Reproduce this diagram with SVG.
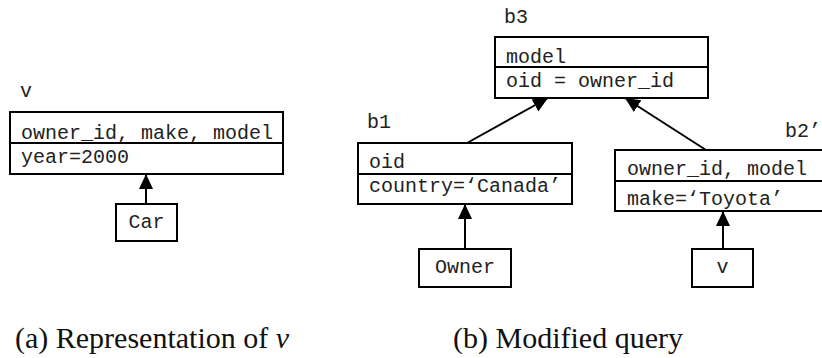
<svg xmlns="http://www.w3.org/2000/svg" width="822" height="358" viewBox="0 0 822 358">
<defs>
<marker id="ah" markerUnits="userSpaceOnUse" markerWidth="16" markerHeight="16" refX="15" refY="7" orient="auto">
<path d="M0,0 L15,7 L0,14 z" fill="#000"/>
</marker>
<style>
.box{fill:#fff;stroke:#000;stroke-width:2}
.div{stroke:#000;stroke-width:2}
.m{font-family:"Liberation Mono","Courier New",monospace;font-size:20px;fill:#222}
.cap{font-family:"Liberation Serif","Times New Roman",serif;font-size:30px;fill:#111}
.edge{stroke:#000;stroke-width:2;fill:none;marker-end:url(#ah)}
</style>
</defs>
<rect width="822" height="358" fill="#fff"/>

<g id="connectors">
<line class="edge" x1="146" y1="204" x2="146" y2="174"/>
<line class="edge" x1="465" y1="249" x2="465" y2="204"/>
<line class="edge" x1="723" y1="249" x2="723" y2="211"/>
<line class="edge" x1="467" y1="143" x2="548" y2="98"/>
<line class="edge" x1="706" y1="150" x2="625" y2="98"/>
</g>

<g id="v-node">
<text class="m" x="20" y="97">v</text>
<rect class="box" x="10" y="112" width="273" height="62"/>
<line class="div" x1="10" y1="143" x2="283" y2="143"/>
<text class="m" x="21" y="139">owner_id, make, model</text>
<text class="m" x="21" y="163">year=2000</text>
</g>

<g id="car">
<rect class="box" x="116" y="204" width="61" height="37"/>
<text class="m" x="146.5" y="228" text-anchor="middle">Car</text>
</g>

<g id="b3">
<text class="m" x="504" y="23">b3</text>
<rect class="box" x="495" y="37" width="213" height="61"/>
<line class="div" x1="495" y1="67" x2="708" y2="67"/>
<text class="m" x="506" y="63">model</text>
<text class="m" x="506" y="87">oid = owner_id</text>
</g>

<g id="b1">
<text class="m" x="367" y="128">b1</text>
<rect class="box" x="358" y="143" width="214" height="61"/>
<line class="div" x1="358" y1="174" x2="572" y2="174"/>
<text class="m" x="369" y="168">oid</text>
<text class="m" x="369" y="192">country=‘Canada’</text>
</g>

<g id="owner">
<rect class="box" x="419" y="249" width="92" height="38"/>
<text class="m" x="465" y="273" text-anchor="middle">Owner</text>
</g>

<g id="b2">
<text class="m" x="785" y="137">b2’</text>
<rect class="box" x="615" y="150" width="220" height="61"/>
<line class="div" x1="615" y1="181" x2="835" y2="181"/>
<text class="m" x="627" y="175">owner_id, model</text>
<text class="m" x="627" y="205">make=‘Toyota’</text>
</g>

<g id="v-leaf">
<rect class="box" x="692" y="249" width="61" height="38"/>
<text class="m" x="722.5" y="273" text-anchor="middle">v</text>
</g>

<text class="cap" x="15" y="348">(a) Representation of <tspan font-style="italic">v</tspan></text>
<text class="cap" x="453" y="348">(b) Modified query</text>
</svg>
